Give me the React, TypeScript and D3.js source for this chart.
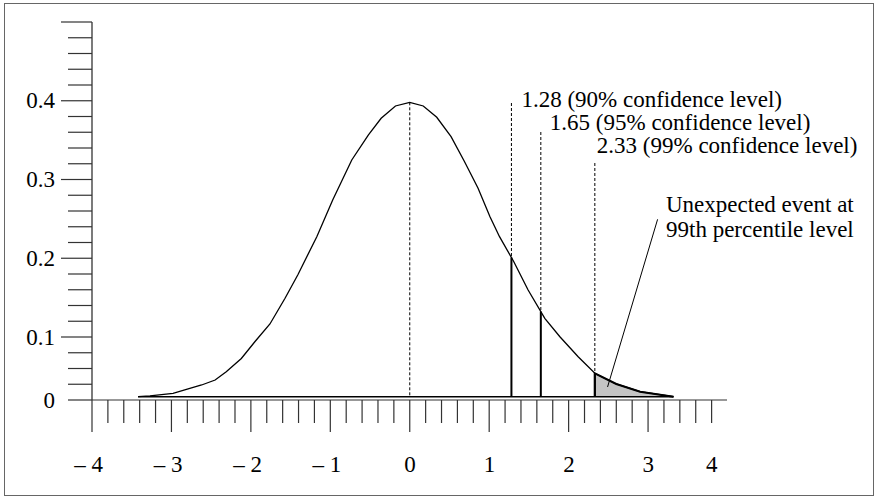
import React from 'react';
import * as d3 from 'd3';

// Density curve (x in standard deviations, y density)
const curveX = [-3.42, -3.27, -2.98, -2.79, -2.62, -2.45, -2.31, -2.12, -1.95, -1.76, -1.57, -1.41, -1.17, -0.97, -0.73, -0.52, -0.36, -0.18, 0, 0.17, 0.34, 0.52, 0.69, 0.86, 1.01, 1.13, 1.31, 1.49, 1.70, 1.89, 2.12, 2.33, 2.60, 2.90, 3.32];
const curveY = [0, 0.001, 0.0046, 0.0105, 0.0159, 0.0227, 0.034, 0.052, 0.0747, 0.0988, 0.1337, 0.1654, 0.2174, 0.2673, 0.3216, 0.3556, 0.3783, 0.395, 0.4, 0.395, 0.3796, 0.3533, 0.3193, 0.2832, 0.2446, 0.2174, 0.1834, 0.145, 0.1065, 0.0815, 0.0543, 0.0318, 0.0173, 0.0068, 0];

const criticalValues = [1.28, 1.65, 2.33];
const criticalLabels = ['1.28 (90% confidence level)', '1.65 (95% confidence level)', '2.33 (99% confidence level)'];

const xLabelAt = [-4, -3, -2, -1, 0, 1, 2, 3, 3.8];
const xLabels = ['\u2013 4', '\u2013 3', '\u2013 2', '\u2013 1', '0', '1', '2', '3', '4'];

const yTickCount = 25;
const yLabelIdx = [0, 4, 9, 14, 19];
const yLabels = ['0', '0.1', '0.2', '0.3', '0.4'];

const noteLines = ['Unexpected event at', '99th percentile level'];
const notePointerFrom = [2.49, 0.0132];
const notePointerTo = [3.12, 0.241];

// layout
const W = 878, H = 498;
const FONT = '"Liberation Serif", "Times New Roman", serif';
const FS = 23;
const labelDx = [10, 9, 2];
const labelBaseline = [106.7, 130, 153.3];
const lineTop = [103, 132, 163];

export default function App() {
  const x = d3.scaleLinear().domain([-4, 4]).range([92, 727.5]);
  const y = d3.scaleLinear().domain([0, 0.4]).range([396.7, 102.3]);
  const yT = d3.scaleLinear().domain([0, yTickCount - 1]).range([400, 22]);
  const interp = d3.scaleLinear().domain(curveX).range(curveY).clamp(true);

  const pts: [number, number][] = curveX.map((v, i) => [v, curveY[i]]);
  const line = d3.line<[number, number]>().x(d => x(d[0])).y(d => y(d[1]));

  const tailStart = criticalValues[2];
  const tailPts: [number, number][] = [[tailStart, 0], [tailStart, interp(tailStart)], ...pts.filter(p => p[0] > tailStart), [curveX[curveX.length - 1], 0]];
  const tailEdge: [number, number][] = [[tailStart, 0], [tailStart, interp(tailStart)], ...pts.filter(p => p[0] > tailStart)];

  const xTicks = d3.range(0, 40).map(i => -4 + i * 0.2);
  const axisY = 400;

  return (
    <svg width={W} height={H} style={{ position: 'absolute', left: 0, top: 0, background: '#fff' }} fontFamily={FONT}>
      <rect x={4.5} y={3.5} width={869} height={492} fill="none" stroke="#666" strokeWidth={1} />

      {/* y axis */}
      <line x1={92} x2={92} y1={yT(yTickCount - 1)} y2={yT(0)} stroke="#222" strokeWidth={1.2} />
      {d3.range(yTickCount).map(i => {
        const long = yLabelIdx.slice(1).includes(i) || i === yTickCount - 1;
        return <line key={'yt' + i} x1={long ? 61 : 68} x2={92} y1={yT(i)} y2={yT(i)} stroke="#333" strokeWidth={1.2} />;
      })}
      {yLabelIdx.map((idx, i) => (
        <text key={'yl' + i} x={55} y={yT(idx) + 7.5} fontSize={FS} textAnchor="end" fill="#000">{yLabels[i]}</text>
      ))}

      {/* x axis */}
      <line x1={92} x2={727} y1={axisY} y2={axisY} stroke="#333" strokeWidth={1.2} />
      {xTicks.map((v, i) => {
        const long = i % 5 === 0;
        return <line key={'xt' + i} x1={x(v)} x2={x(v)} y1={axisY} y2={long ? 432 : 423} stroke="#333" strokeWidth={1.2} />;
      })}
      {xLabelAt.map((v, i) => (
        <text key={'xl' + i} x={x(v) + 6 + (v < 0 ? 5 : 0)} y={471.5} fontSize={FS} textAnchor="end" fill="#000">{xLabels[i]}</text>
      ))}

      {/* shaded tail */}
      <path d={line(tailPts) || ''} fill="#c4c4c4" stroke="none" />
      <path d={line(tailEdge) || ''} fill="none" stroke="#000" strokeWidth={2} />

      {/* curve baseline */}
      <line x1={x(curveX[0])} x2={x(curveX[curveX.length - 1])} y1={y(0)} y2={y(0)} stroke="#000" strokeWidth={1.6} />
      {/* curve */}
      <path d={line(pts) || ''} fill="none" stroke="#000" strokeWidth={1.3} />

      {/* mean line */}
      <line x1={x(0)} x2={x(0)} y1={y(interp(0))} y2={y(0)} stroke="#000" strokeWidth={1} strokeDasharray="3,2" />

      {/* critical values */}
      {criticalValues.map((v, i) => (
        <g key={'cv' + i}>
          <line x1={x(v)} x2={x(v)} y1={lineTop[i]} y2={y(interp(v))} stroke="#000" strokeWidth={1} strokeDasharray="3,2" />
          <line x1={x(v)} x2={x(v)} y1={y(interp(v))} y2={y(0)} stroke="#000" strokeWidth={2} />
          <text x={x(v) + labelDx[i]} y={labelBaseline[i]} fontSize={FS} fill="#000">{criticalLabels[i]}</text>
        </g>
      ))}

      {/* annotation */}
      <line x1={x(notePointerFrom[0])} y1={y(notePointerFrom[1])} x2={x(notePointerTo[0])} y2={y(notePointerTo[1])} stroke="#000" strokeWidth={1} />
      {noteLines.map((t, i) => (
        <text key={'n' + i} x={666} y={212 + i * 24.7} fontSize={FS} fill="#000">{t}</text>
      ))}
    </svg>
  );
}
